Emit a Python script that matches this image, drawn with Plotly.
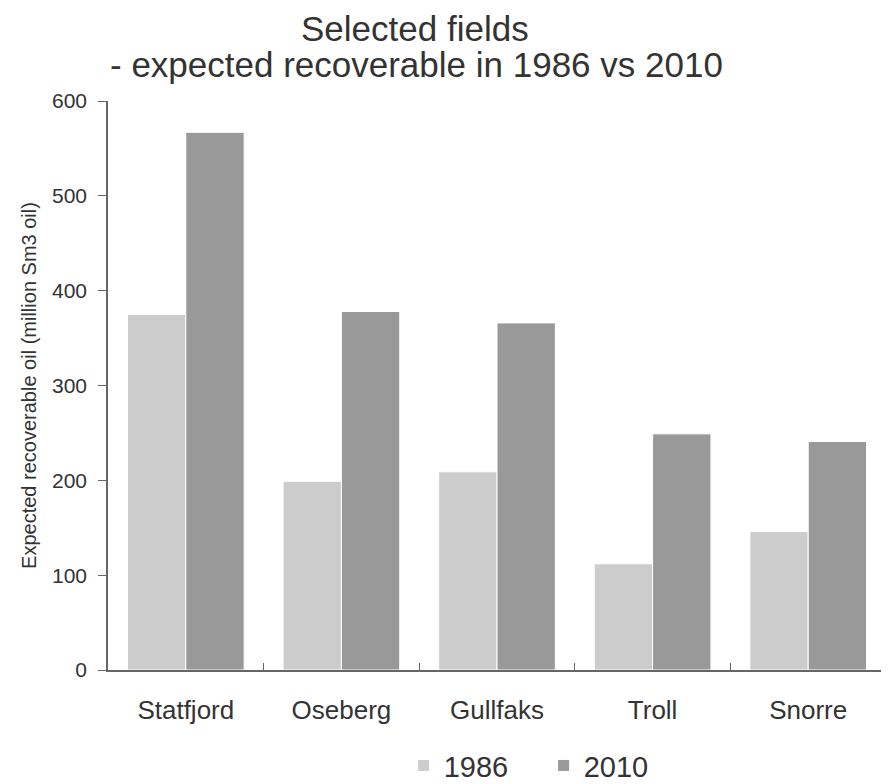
import plotly.graph_objects as go

fields = ["Statfjord", "Oseberg", "Gullfaks", "Troll", "Snorre"]
values_1986 = [375, 199, 209, 112, 146]
values_2010 = [567, 378, 366, 249, 241]
y_ticks = [0, 100, 200, 300, 400, 500, 600]
title_line1 = "Selected fields"
title_line2 = "- expected recoverable in 1986 vs 2010"

font_family = "Liberation Sans, Arial, sans-serif"
text_color = "#333333"
axis_color = "#666666"

fig = go.Figure()
fig.add_trace(go.Bar(name="1986", x=fields, y=values_1986,
                     marker=dict(color="#cccccc", line=dict(color="white", width=1))))
fig.add_trace(go.Bar(name="2010", x=fields, y=values_2010,
                     marker=dict(color="#999999", line=dict(color="white", width=1))))

fig.update_layout(
    width=889, height=784,
    margin=dict(l=100, r=11, t=93, b=122, autoexpand=False),
    paper_bgcolor="white", plot_bgcolor="white",
    font=dict(family=font_family, color=text_color),
    barmode="group", bargap=0.25, bargroupgap=0.0,
    legend=dict(orientation="h", x=0.38, xanchor="left", y=-0.168, yanchor="middle",
                font=dict(size=29, color=text_color), itemwidth=30,
                entrywidth=95, entrywidthmode="pixels"),
    showlegend=True,
)
fig.add_annotation(text=title_line1, xref="paper", yref="paper", x=0.395, y=1.127,
                   xanchor="center", yanchor="middle", showarrow=False,
                   font=dict(size=35, color=text_color, family=font_family))
fig.add_annotation(text=title_line2, xref="paper", yref="paper", x=0.397, y=1.064,
                   xanchor="center", yanchor="middle", showarrow=False,
                   font=dict(size=35, color=text_color, family=font_family))
fig.update_xaxes(
    showline=True, linecolor=axis_color, linewidth=1.5, automargin=False,
    ticks="inside", tickson="boundaries", ticklen=7, tickcolor=axis_color,
    tickfont=dict(size=26, color=text_color), ticklabelstandoff=16,
    showgrid=False,
)
fig.update_yaxes(
    range=[0, 600], tickvals=y_ticks, automargin=False,
    showline=True, linecolor=axis_color, linewidth=1.5,
    ticks="outside", ticklen=8, tickcolor=axis_color,
    tickfont=dict(size=21, color=text_color), ticklabelstandoff=7,
    showgrid=False, zeroline=False,
    title=dict(text="Expected recoverable oil (million Sm3 oil)",
               font=dict(size=20, color=text_color), standoff=10),
)

fig.write_html("out.html")
